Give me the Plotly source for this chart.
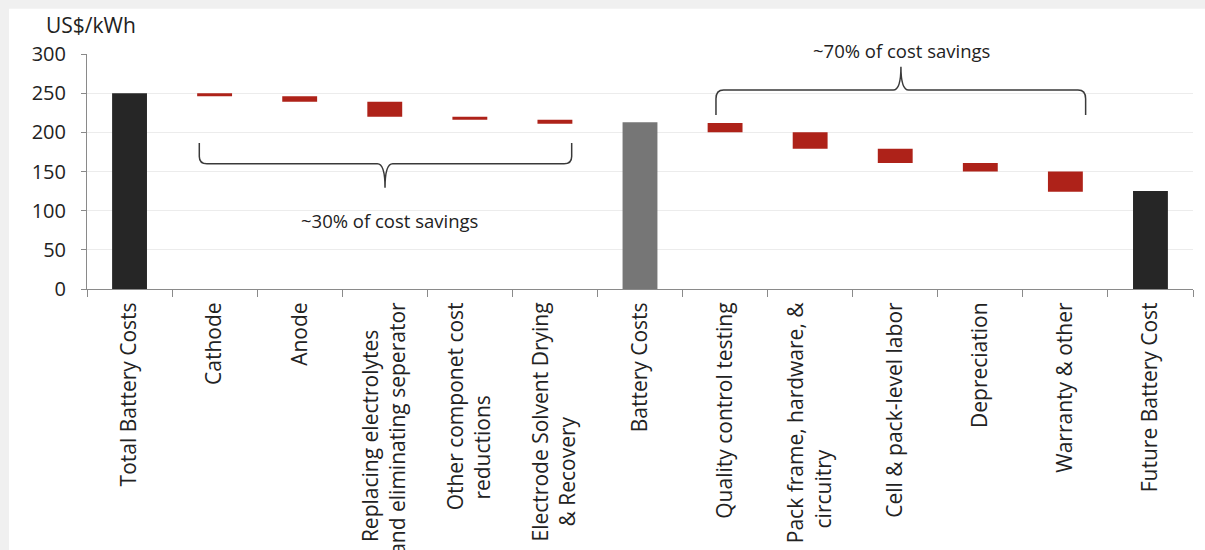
import plotly.graph_objects as go

# ---- data ----
NB = "\u00a0"
categories = [
    "Total Battery Costs",
    "Cathode",
    "Anode",
    "Replacing electrolytes" + NB * 5 + "<br>and eliminating seperator",
    "Other componet cost<br>reductions" + NB * 17,
    "Electrode Solvent Drying<br>& Recovery" + NB * 21,
    "Battery Costs",
    "Quality control testing",
    "Pack frame, hardware, &<br>circuitry" + NB * 27,
    "Cell & pack-level labor",
    "Depreciation",
    "Warranty & other",
    "Future Battery Cost",
]
# start (upper) and end (lower) value of each bar, US$/kWh
upper = [250, 250, 246, 239, 220, 216, 213, 212, 200, 179, 161, 150, 125]
lower = [0, 246, 239, 220, 216, 211, 0, 200, 179, 161, 150, 124, 0]
kinds = ["total", "delta", "delta", "delta", "delta", "delta", "subtotal",
         "delta", "delta", "delta", "delta", "delta", "total"]

y_ticks = [0, 50, 100, 150, 200, 250, 300]

palette = {"total": "#262626", "subtotal": "#767676", "delta": "#ae2219"}

heights = [u - l for u, l in zip(upper, lower)]
colors = [palette[k] for k in kinds]

FONT = "Open Sans, Noto Sans, sans-serif"

fig = go.Figure()
fig.add_trace(go.Bar(
    x=categories, y=heights, base=lower,
    marker=dict(color=colors, line=dict(width=0)),
    width=0.41, showlegend=False, hoverinfo="skip",
))

# braces (data coords: x = category index, y = value)
def brace_path(x0, x1, xc, y_end, y_bar, y_tip, r=0.09):
    ry = (y_end - y_bar) * 0.35
    return (f"M {x0},{y_end} L {x0},{y_bar + ry} Q {x0},{y_bar} {x0 + r},{y_bar} "
            f"L {xc - r},{y_bar} Q {xc},{y_bar} {xc},{y_tip} "
            f"Q {xc},{y_bar} {xc + r},{y_bar} "
            f"L {x1 - r},{y_bar} Q {x1},{y_bar} {x1},{y_bar + ry} L {x1},{y_end}")

shapes = [
    # white panel on grey page
    dict(type="rect", xref="paper", yref="paper", x0=-0.0705, x1=1.02,
         y0=-1.2, y1=1.1925, fillcolor="white", line=dict(width=0), layer="below"),
    dict(type="path", xref="x", yref="y",
         path=brace_path(0.82, 5.197, 3.003, 186.5, 159.8, 129.2),
         line=dict(color="#3a3a3a", width=1.5)),
    dict(type="path", xref="x", yref="y",
         path=brace_path(6.893, 11.238, 9.067, 222.2, 254.1, 283.8),
         line=dict(color="#3a3a3a", width=1.5)),
]

annotations = [
    dict(text="US$/kWh", xref="paper", yref="paper", x=-0.039, y=1.125,
         xanchor="left", yanchor="middle", showarrow=False,
         font=dict(family=FONT, size=21, color="#222")),
    dict(text="~30% of cost savings", xref="x", yref="y", x=3.06, y=87,
         showarrow=False, font=dict(family=FONT, size=18.5, color="#222")),
    dict(text="~70% of cost savings", xref="x", yref="paper", x=9.07, y=1.017,
         xanchor="center", yanchor="middle",
         showarrow=False, font=dict(family=FONT, size=18.5, color="#222")),
]

fig.update_layout(
    width=1205, height=550,
    margin=dict(l=87, r=12, t=54, b=261),
    paper_bgcolor="#f0f0f0", plot_bgcolor="white",
    font=dict(family=FONT, size=20, color="#222"),
    shapes=shapes, annotations=annotations,
)
fig.update_xaxes(
    type="category", tickangle=-90, automargin=False,
    showline=True, linecolor="#8a8a8a", linewidth=1,
    ticks="outside", tickson="boundaries", ticklen=7, tickcolor="#8a8a8a",
    ticklabelstandoff=4,
    showgrid=False, tickfont=dict(family=FONT, size=21, color="#222"),
)
fig.update_yaxes(
    range=[0, 300], tickvals=y_ticks, automargin=False,
    showline=True, linecolor="#8a8a8a", linewidth=1,
    ticks="outside", ticklen=5, tickcolor="#8a8a8a",
    showgrid=True, gridcolor="#ececec", zeroline=False,
    ticklabelstandoff=11,
    tickfont=dict(family=FONT, size=20, color="#222"),
)

fig.write_html("out.html")
